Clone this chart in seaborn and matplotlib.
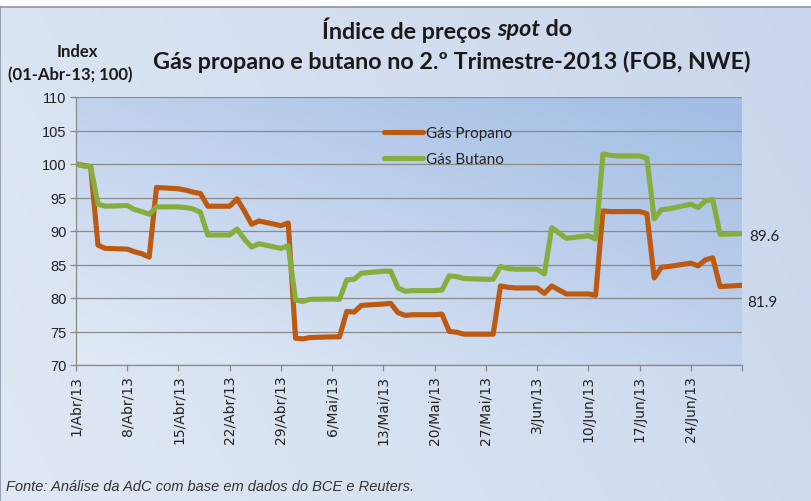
"""Índice de preços spot do gás propano e butano, 2.º trimestre de 2013."""
import matplotlib
matplotlib.use("Agg")
import matplotlib.pyplot as plt
import numpy as np
import pandas as pd
import seaborn as sns

# dias úteis de 1 Abr a 1 Jul 2013
datas = pd.to_datetime([
    "2013-04-01", "2013-04-02", "2013-04-03", "2013-04-04", "2013-04-05",
    "2013-04-08", "2013-04-09", "2013-04-10", "2013-04-11", "2013-04-12",
    "2013-04-15", "2013-04-16", "2013-04-17", "2013-04-18", "2013-04-19",
    "2013-04-22", "2013-04-23", "2013-04-24", "2013-04-25", "2013-04-26",
    "2013-04-29", "2013-04-30",
    "2013-05-01", "2013-05-02", "2013-05-03",
    "2013-05-06", "2013-05-07", "2013-05-08", "2013-05-09", "2013-05-10",
    "2013-05-13", "2013-05-14", "2013-05-15", "2013-05-16", "2013-05-17",
    "2013-05-20", "2013-05-21", "2013-05-22", "2013-05-23", "2013-05-24",
    "2013-05-27", "2013-05-28", "2013-05-29", "2013-05-30", "2013-05-31",
    "2013-06-03", "2013-06-04", "2013-06-05", "2013-06-06", "2013-06-07",
    "2013-06-10", "2013-06-11", "2013-06-12", "2013-06-13", "2013-06-14",
    "2013-06-17", "2013-06-18", "2013-06-19", "2013-06-20", "2013-06-21",
    "2013-06-24", "2013-06-25", "2013-06-26", "2013-06-27", "2013-06-28",
    "2013-07-01",
])

propano = [
    100.0, 99.8, 99.6, 87.9, 87.4,
    87.3, 86.9, 86.6, 86.1, 96.5,
    96.3, 96.1, 95.8, 95.6, 93.7,
    93.7, 94.8, 93.0, 91.0, 91.5,
    90.8, 91.2,
    74.0, 73.9, 74.1,
    74.2, 74.2, 78.0, 77.9, 78.9,
    79.1, 79.2, 77.8, 77.4, 77.5,
    77.5, 77.6, 75.0, 74.9, 74.6,
    74.6, 74.6, 81.8, 81.6, 81.5,
    81.5, 80.7, 81.8, 81.2, 80.6,
    80.6, 80.4, 93.0, 92.9, 92.9,
    92.9, 92.6, 83.0, 84.6, 84.7,
    85.2, 84.8, 85.7, 86.0, 81.7,
    81.9,
]

butano = [
    100.0, 99.7, 99.6, 94.0, 93.7,
    93.8, 93.2, 92.9, 92.5, 93.6,
    93.6, 93.5, 93.3, 92.8, 89.4,
    89.4, 90.3, 88.8, 87.6, 88.1,
    87.4, 87.8,
    79.7, 79.5, 79.8,
    79.85, 79.8, 82.7, 82.8, 83.7,
    84.0, 84.0, 81.5, 81.0, 81.1,
    81.1, 81.2, 83.3, 83.2, 82.9,
    82.8, 82.8, 84.7, 84.4, 84.3,
    84.3, 83.6, 90.5, 89.7, 88.9,
    89.3, 88.8, 101.5, 101.3, 101.2,
    101.2, 100.9, 91.8, 93.2, 93.3,
    94.0, 93.5, 94.5, 94.7, 89.5,
    89.6,
]

series = ["Gás Propano", "Gás Butano"]
cores = {"Gás Propano": "#BC5A12", "Gás Butano": "#86AE3F"}
meses = {4: "Abr", 5: "Mai", 6: "Jun", 7: "Jul"}
ticks_x = pd.date_range("2013-04-01", "2013-07-01", freq="7D")
ticks_y = list(range(70, 111, 5))

df = pd.DataFrame({"data": datas, "Gás Propano": propano, "Gás Butano": butano})
df = df.melt(id_vars="data", var_name="serie", value_name="indice")

sns.set_style("white")
plt.rcParams["font.family"] = ["Lato", "DejaVu Sans"]

W, H = 812, 502
fig = plt.figure(figsize=(W / 100, H / 100), dpi=100, facecolor="white")


def gradiente(c0, c1, wu, wv, n=200):
    u, v = np.meshgrid(np.linspace(0, 1, n), np.linspace(1, 0, n))
    t = np.clip(wu * u + wv * v, 0, 1)[..., None]
    return np.array(c0) * (1 - t) + np.array(c1) * t


# fundo da figura, com moldura
fundo = fig.add_axes([0, 0, 1, 1 - 8 / H], zorder=-3)
fundo.imshow(gradiente((0.88, 0.91, 0.955), (0.79, 0.84, 0.925), 0.75, 0.25),
             aspect="auto", extent=(0, 1, 0, 1))
fundo.set_xticks([])
fundo.set_yticks([])
for s in fundo.spines.values():
    s.set_color("#8c96a6")
    s.set_linewidth(1.2)
fundo.spines["right"].set_visible(False)
fundo.spines["bottom"].set_visible(False)

pos = [76 / W, 1 - 366 / H, (742 - 76) / W, (366 - 98) / H]
area = fig.add_axes(pos, zorder=-2)
area.imshow(gradiente((0.89, 0.92, 0.965), (0.64, 0.745, 0.895), 0.5, 0.55),
            aspect="auto", extent=(0, 1, 0, 1))
area.axis("off")

ax = fig.add_axes(pos, zorder=1)
ax.patch.set_alpha(0)

sns.lineplot(data=df, x="data", y="indice", hue="serie", hue_order=series,
             palette=cores, lw=3.7, ax=ax, solid_capstyle="round",
             solid_joinstyle="round")

ax.set_xlim(ticks_x[0], ticks_x[-1])
ax.set_ylim(70, 110)
ax.set_yticks(ticks_y)
ax.set_yticklabels([str(v) for v in ticks_y], fontsize=10.5,
                   family=["Liberation Sans Narrow", "Liberation Sans"], color="#222222")
ax.set_xticks(ticks_x)
rotulos = [f"{d.day}/{meses[d.month]}/13" for d in ticks_x]
rotulos[-1] = ""
ax.set_xticklabels(rotulos, rotation=90, fontsize=10, family="DejaVu Sans",
                   color="#222222")
ax.set_xlabel("")
ax.set_ylabel("")

ax.grid(axis="y", color="#8a8a8a", lw=0.9)
ax.grid(axis="x", visible=False)
ax.set_axisbelow(True)
for lado in ["top", "right"]:
    ax.spines[lado].set_visible(False)
for lado in ["left", "bottom"]:
    ax.spines[lado].set_color("#8a8a8a")
    ax.spines[lado].set_linewidth(0.9)
ax.tick_params(axis="y", length=4, width=0.9, color="#8a8a8a", pad=3, left=True)
ax.tick_params(axis="x", length=4, width=0.9, color="#8a8a8a", pad=3, bottom=True)

leg = ax.legend(loc="upper left", bbox_to_anchor=(0.463, 0.89), frameon=False,
                fontsize=11, handlelength=2.5, handletextpad=0.2,
                labelspacing=0.75, borderpad=0, borderaxespad=0)
for t in leg.get_texts():
    t.set_color("#222222")

# valores finais
ax.annotate(f"{butano[-1]:.1f}", xy=(datas[-1], butano[-1]), xytext=(5, -1.5),
            textcoords="offset points", ha="left", va="center", fontsize=11,
            color="#222222", annotation_clip=False)
ax.annotate(f"{propano[-1]:.1f}", xy=(datas[-1], propano[-1]), xytext=(4, -12),
            textcoords="offset points", ha="left", va="center", fontsize=11,
            color="#222222", annotation_clip=False)

# título com "spot" em itálico
r = fig.canvas.get_renderer()


def linha_mista(y, partes, cx, size):
    objs = [fig.text(0, y, s, style=st, fontsize=size, fontweight="bold",
                     color="#1a1a1a", va="center", ha="left") for s, st in partes]
    larg = [o.get_window_extent(r).width for o in objs]
    x = cx * W - sum(larg) / 2
    for o, w in zip(objs, larg):
        o.set_x(x / W)
        x += w


linha_mista(1 - 30 / H, [("Índice de preços ", "normal"), ("spot", "italic"),
                         (" do", "normal")], 447 / W, 16.8)
fig.text(452 / W, 1 - 62 / H, "Gás propano e butano no 2.º Trimestre-2013 (FOB, NWE)",
         ha="center", va="center", fontsize=16.8, fontweight="bold", color="#1a1a1a")

fig.text(77 / W, 1 - 52 / H, "Index", ha="center", va="center", fontsize=12,
         fontweight="bold", color="#1a1a1a")
fig.text(70 / W, 1 - 75 / H, "(01-Abr-13; 100)", ha="center", va="center",
         fontsize=12, fontweight="bold", color="#1a1a1a")

fig.text(6 / W, 1 - 487 / H, "Fonte: Análise da AdC com base em dados do BCE e Reuters.",
         ha="left", va="center", fontsize=10.5, style="italic",
         family=["Liberation Sans Narrow", "Liberation Sans"], color="#333333")

fig.savefig("out.png", dpi=100)
